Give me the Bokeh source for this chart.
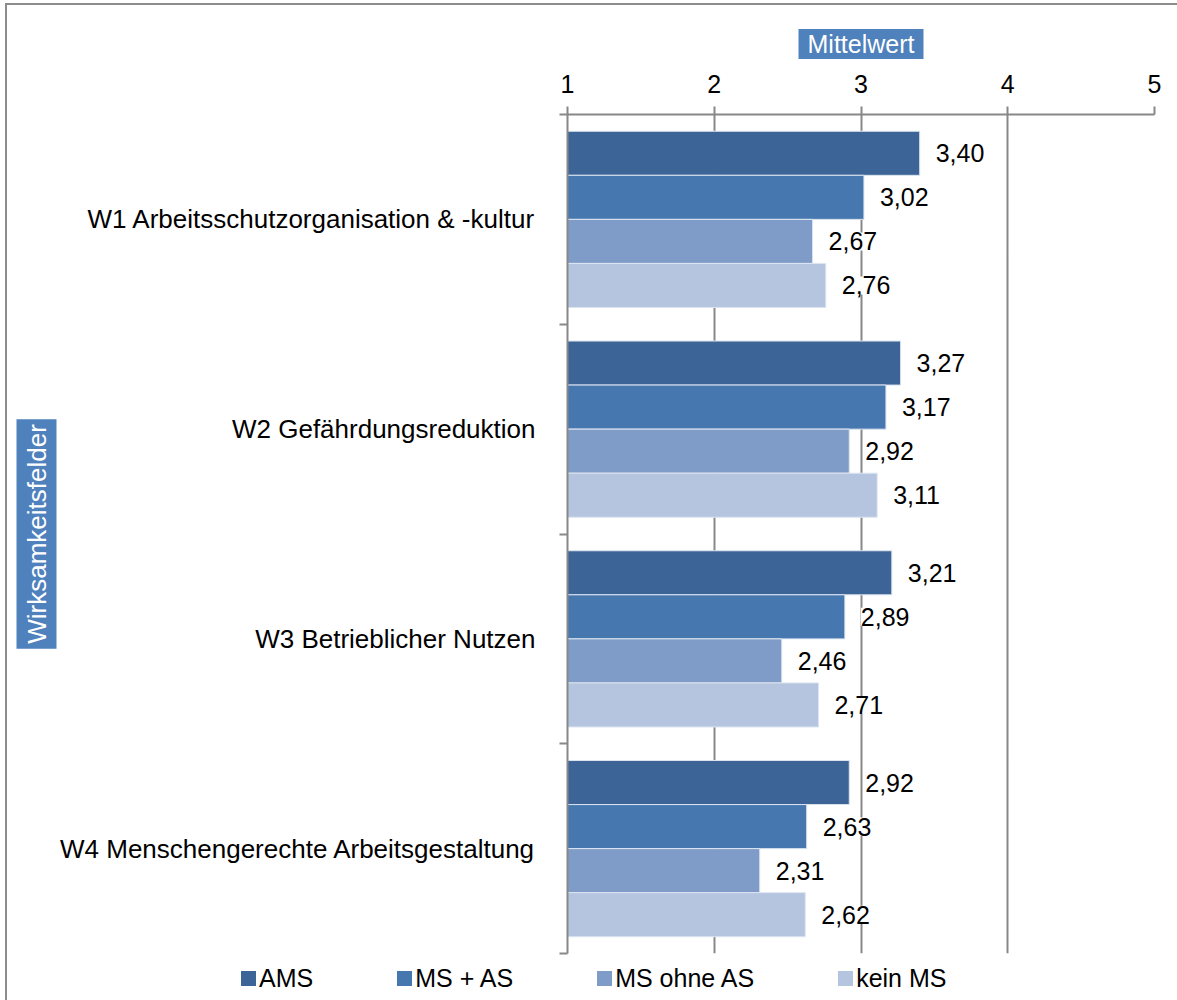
from bokeh.plotting import figure
from bokeh.models import (Range1d, FixedTicker, ColumnDataSource, LabelSet, Title, Div)
from bokeh.layouts import column
from bokeh.core.properties import value
from bokeh.embed import file_html
from bokeh.resources import INLINE

# ---- data ----
categories = ["W1 Arbeitsschutzorganisation & -kultur",
              "W2 Gefährdungsreduktion",
              "W3 Betrieblicher Nutzen",
              "W4 Menschengerechte Arbeitsgestaltung"]
series_names = ["AMS", "MS + AS", "MS ohne AS", "kein MS"]
ams = [3.40, 3.27, 3.21, 2.92]
ms_as = [3.02, 3.17, 2.89, 2.63]
ms_ohne_as = [2.67, 2.92, 2.46, 2.31]
kein_ms = [2.76, 3.11, 2.71, 2.62]
x_ticks = [1, 2, 3, 4, 5]
x_title = "Mittelwert"
y_title = "Wirksamkeitsfelder"

series_values = [ams, ms_as, ms_ohne_as, kein_ms]
colors = ["#3C6496", "#4777AF", "#7E9CC7", "#B5C4DF"]
offsets = [-0.315, -0.105, 0.105, 0.315]
bar_h = 0.21

FONT = "Liberation Sans"
GRAY = "#888888"
BOX = "#4F81BD"
OX, OY = 7, 5          # offset of the chart area inside its outer border
W = 1163

p = figure(width=W, height=952, output_backend="svg", toolbar_location=None,
           x_range=Range1d(1, 5), y_range=Range1d(3.5, -0.5),
           x_axis_location="above",
           min_border_left=567 - OX, min_border_right=W - (1154 - OX),
           min_border_top=114 - OY, min_border_bottom=4)
p.outline_line_color = None
p.background_fill_color = "white"
p.border_fill_color = "white"

# title "Mittelwert" above the top axis
p.title.text = x_title
p.title.align = "center"
p.title.text_font = FONT
p.title.text_font_size = "25px"
p.title.text_font_style = "normal"
p.title.text_color = "white"
p.title.background_fill_color = BOX
p.title.padding = dict(left=9, right=9, top=1, bottom=1)
p.title.standoff = 25

# top axis
xa = p.xaxis[0]
xa.ticker = FixedTicker(ticks=x_ticks)
xa.axis_line_color = GRAY
xa.axis_line_width = 2
xa.major_tick_line_color = GRAY
xa.major_tick_line_width = 2
xa.major_tick_out = 8
xa.major_tick_in = 0
xa.minor_tick_line_color = None
xa.major_label_text_font = FONT
xa.major_label_text_font_size = "25px"
xa.major_label_text_color = "black"
xa.major_label_standoff = 14

# grid
p.xgrid.grid_line_color = GRAY
p.xgrid.grid_line_width = 2
p.ygrid.visible = False

# left axis
ya = p.yaxis[0]
ya.ticker = FixedTicker(ticks=list(range(len(categories))),
                        minor_ticks=[i - 0.5 for i in range(len(categories) + 1)])
ya.major_label_overrides = {i: c for i, c in enumerate(categories)}
ya.axis_line_color = GRAY
ya.axis_line_width = 2
ya.major_tick_line_color = None
ya.major_tick_out = 0
ya.major_tick_in = 0
ya.minor_tick_line_color = GRAY
ya.minor_tick_line_width = 2
ya.minor_tick_out = 8
ya.minor_tick_in = 0
ya.major_label_text_font = FONT
ya.major_label_text_font_size = "26px"
ya.major_label_text_color = "black"
ya.major_label_standoff = 24

# vertical title "Wirksamkeitsfelder" on the left
yt = Title(text=y_title, align="center", vertical_align="middle",
           text_font=FONT, text_font_size="26px",
           text_font_style="normal", text_color="white",
           background_fill_color=BOX, padding=5, standoff=0)
p.add_layout(yt, "left")

for k, (name, vals, col) in enumerate(zip(series_names, series_values, colors)):
    ys = [i + offsets[k] for i in range(len(categories))]
    src = ColumnDataSource(dict(y=ys, right=vals, left=[x_ticks[0]] * len(vals),
                                txt=[f"{v:.2f}".replace(".", ",") for v in vals]))
    p.hbar(y="y", left="left", right="right", height=bar_h, source=src,
           fill_color=col, line_color="#DCE4F0", line_width=1)
    ls = LabelSet(x="right", y="y", text="txt", source=src, x_offset=16,
                  text_align="left", text_baseline="middle",
                  text_font=value(FONT), text_font_size=value("25px"),
                  text_color=value("black"),
                  background_fill_color="white")
    p.add_layout(ls)

# legend row below the chart
legend_items = "".join(
    f"<span style='display:inline-flex;align-items:center;margin-right:84px'>"
    f"<span style='display:inline-block;width:15px;height:15px;background:{c};"
    f"margin-right:3px'></span>{n}</span>"
    for n, c in zip(series_names, colors))
legend_html = (f"<div style='display:flex;align-items:center;padding-left:{236 - OX}px;"
               f"padding-top:2px;font-family:\"{FONT}\";font-size:25px;"
               f"line-height:29px;color:black;white-space:nowrap'>{legend_items}</div>")
legend_div = Div(text=legend_html, width=W, height=36)

layout = column(p, legend_div, spacing=0,
                styles={"border-top": "2px solid #8c8c8c",
                        "border-left": "2px solid #8c8c8c",
                        "margin": f"{OY - 2}px 0px 0px {OX - 2}px"})
open("out.html", "w").write(file_html(layout, INLINE))
